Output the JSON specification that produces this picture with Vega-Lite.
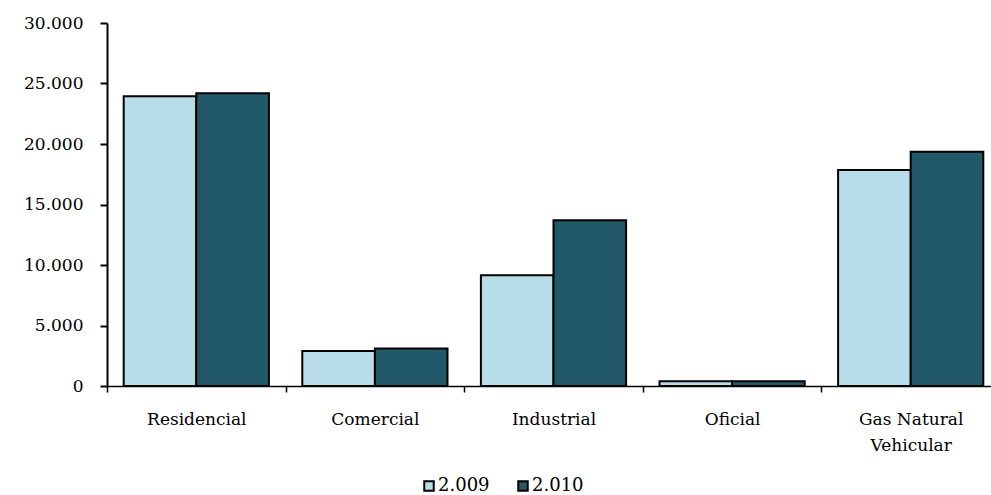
{
  "$schema": "https://vega.github.io/schema/vega-lite/v6.json",
  "autosize": "none",
  "padding": {"left": 107, "top": 23, "right": 0, "bottom": 109},
  "width": 884,
  "height": 363,
  "background": "white",
  "config": {
    "view": {"stroke": null},
    "font": "DejaVu Serif",
    "axis": {"labelFont": "DejaVu Serif", "labelColor": "#000000", "labelFontSize": 17, "domainColor": "#000000", "tickColor": "#000000", "grid": false},
    "legend": {"labelFont": "DejaVu Serif", "labelColor": "#000000", "labelFontSize": 18}
  },
  "data": {
    "values": [
      {"sector": "Residencial", "year": "2.009", "value": 23950},
      {"sector": "Residencial", "year": "2.010", "value": 24200},
      {"sector": "Comercial", "year": "2.009", "value": 2900},
      {"sector": "Comercial", "year": "2.010", "value": 3100},
      {"sector": "Industrial", "year": "2.009", "value": 9150},
      {"sector": "Industrial", "year": "2.010", "value": 13700},
      {"sector": "Oficial", "year": "2.009", "value": 400},
      {"sector": "Oficial", "year": "2.010", "value": 400},
      {"sector": "Gas Natural Vehicular", "year": "2.009", "value": 17850},
      {"sector": "Gas Natural Vehicular", "year": "2.010", "value": 19350}
    ]
  },
  "mark": {"type": "bar", "stroke": "#000000", "strokeWidth": 2},
  "encoding": {
    "x": {
      "field": "sector",
      "type": "nominal",
      "sort": null,
      "scale": {"range": [0, 893], "paddingInner": 0, "paddingOuter": 0},
      "axis": {
        "title": null,
        "labelAngle": 0,
        "tickBand": "extent",
        "tickSize": 6,
        "tickWidth": 1.5,
        "domainWidth": 1.5,
        "labelPadding": 19,
        "labelLineHeight": 26,
        "labelExpr": "datum.value == 'Gas Natural Vehicular' ? ['Gas Natural', 'Vehicular'] : datum.value"
      }
    },
    "xOffset": {
      "field": "year",
      "type": "nominal",
      "scale": {"paddingInner": 0, "paddingOuter": 0.23}
    },
    "y": {
      "field": "value",
      "type": "quantitative",
      "scale": {"domain": [0, 30000], "nice": false},
      "axis": {
        "title": null,
        "values": [0, 5000, 10000, 15000, 20000, 25000, 30000],
        "tickSize": 7,
        "tickWidth": 2,
        "domainWidth": 2,
        "labelPadding": 17,
        "labelExpr": "replace(format(datum.value, ','), regexp(',', 'g'), '.')"
      }
    },
    "fill": {
      "field": "year",
      "type": "nominal",
      "scale": {"domain": ["2.009", "2.010"], "range": ["#B7DEE8", "#215968"]},
      "legend": {
        "title": null,
        "orient": "none",
        "direction": "horizontal",
        "legendX": 313,
        "legendY": 454,
        "symbolType": "square",
        "symbolSize": 90,
        "symbolStrokeColor": "#000000",
        "symbolStrokeWidth": 2,
        "labelOffset": 0,
        "columnPadding": 24
      }
    }
  }
}
